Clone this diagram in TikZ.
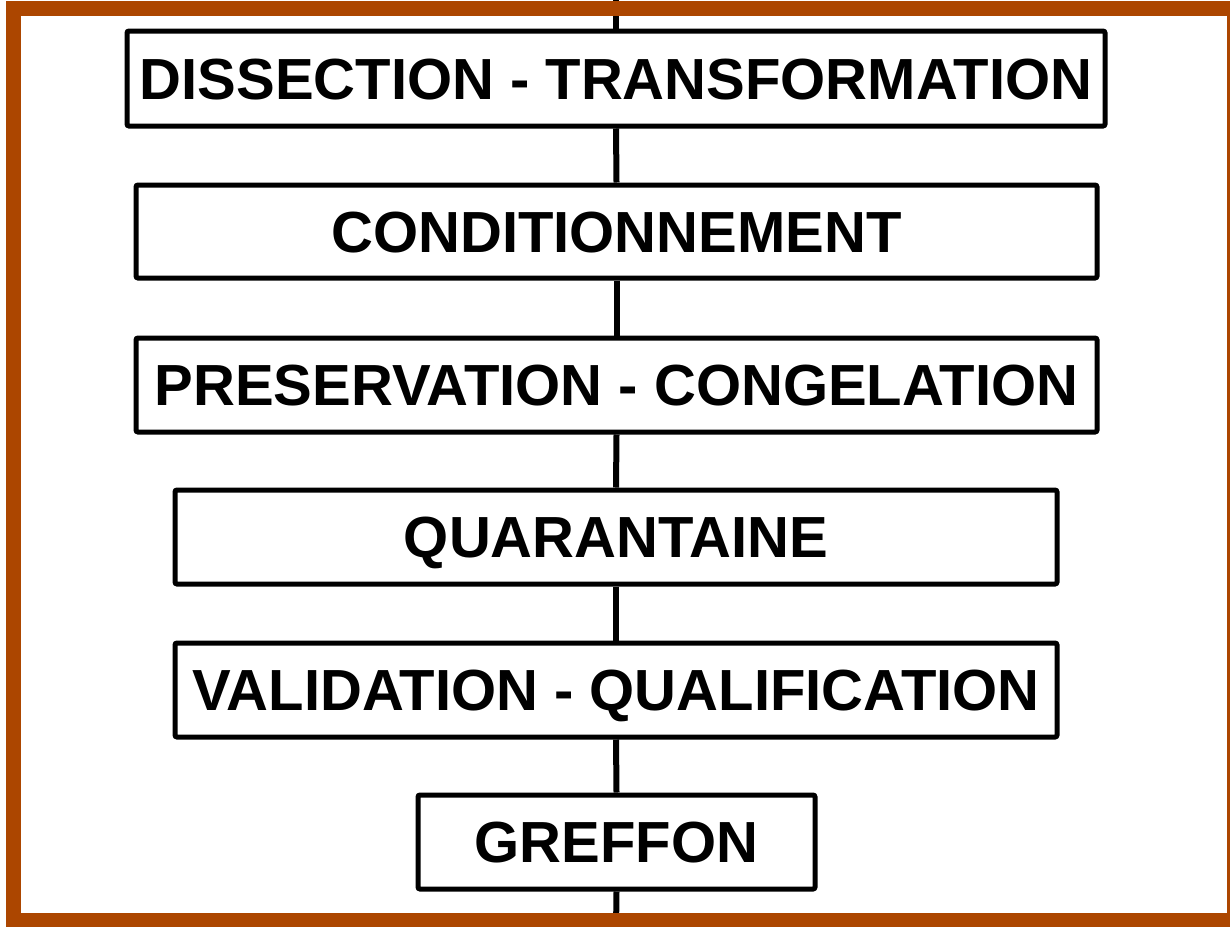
\documentclass[tikz,border=0pt]{standalone}
\usepackage{fontspec}
\setmainfont{Liberation Sans}
\definecolor{framebrown}{RGB}{172,70,0}
\begin{document}
\begin{tikzpicture}[x=1pt,y=-1pt,
  stepbox/.style={draw=black, line width=5pt, rounded corners=2pt, fill=white,
    inner sep=0pt, text=black, text height=41.5pt, text depth=0pt,
    font=\fontsize{58}{60}\selectfont\bfseries},
  link/.style={draw=black, line width=6pt}]
\useasboundingbox (0,0) rectangle (1230,926);
\fill[white] (0,0) rectangle (1230,926);
\coordinate (top) at (616,-2);
\coordinate (bot) at (616,930);
\node[stepbox, minimum width=978pt, minimum height=95pt] (s1) at (616,78.5) {DISSECTION - TRANSFORMATION};
\node[stepbox, minimum width=961pt, minimum height=93pt] (s2) at (616.5,231.5) {CONDITIONNEMENT};
\node[stepbox, minimum width=961pt, minimum height=94pt] (s3) at (616.5,385) {PRESERVATION - CONGELATION};
\node[stepbox, minimum width=882pt, minimum height=94pt] (s4) at (616,537) {QUARANTAINE};
\node[stepbox, minimum width=882pt, minimum height=94pt] (s5) at (616,690) {VALIDATION - QUALIFICATION};
\node[stepbox, minimum width=397pt, minimum height=94pt] (s6) at (616.5,842) {GREFFON};
\draw[link] (top) -- (s1.north);
\draw[link] (s1.south) -- (s2.north);
\draw[link] (s2.south) -- (s3.north);
\draw[link] (s3.south) -- (s4.north);
\draw[link] (s4.south) -- (s5.north);
\draw[link] (s5.south) -- (s6.north);
\draw[link] (s6.south) -- (bot);
\draw[framebrown, line width=15pt] (13.5,8.5) rectangle (1234.5,920.5);
\end{tikzpicture}
\end{document}
